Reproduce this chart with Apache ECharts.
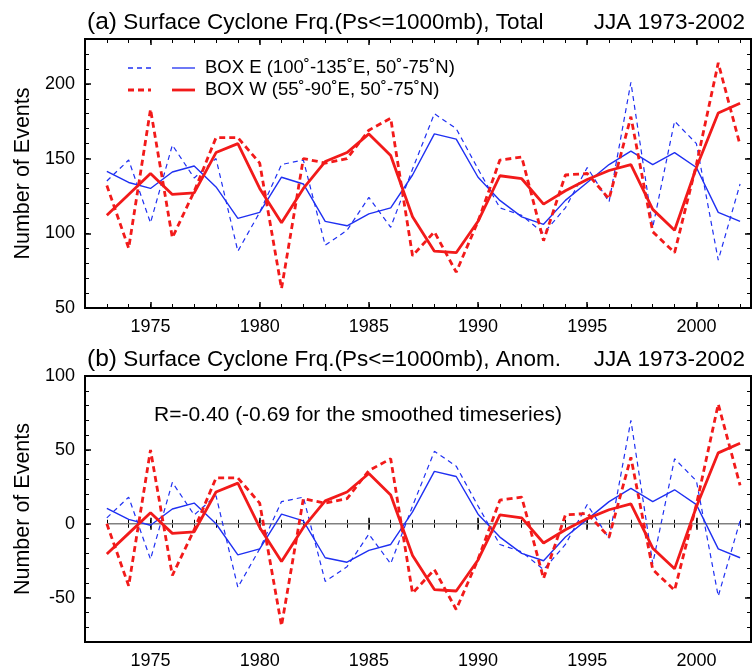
<!DOCTYPE html>
<html>
<head>
<meta charset="utf-8">
<script src="https://cdn.jsdelivr.net/npm/echarts@6/dist/echarts.min.js"></script>
<style>
  html, body { margin: 0; padding: 0; background: #fff; }
  #chart { width: 755px; height: 670px; }
</style>
</head>
<body>
<div id="chart"></div>
<script>
// JJA surface cyclone counts, 1973-2002
var years = [1973, 1974, 1975, 1976, 1977, 1978, 1979, 1980, 1981, 1982,
             1983, 1984, 1985, 1986, 1987, 1988, 1989, 1990, 1991, 1992,
             1993, 1994, 1995, 1996, 1997, 1998, 1999, 2000, 2001, 2002];

// panel (a) totals
var boxERaw    = [135, 149, 107, 159, 137, 150, 88, 114, 146, 149,
                  92, 102, 124, 104, 143, 180, 170, 143, 117, 112,
                  100, 117, 144, 121, 201, 104, 175, 160, 82, 133];
var boxESmooth = [141.5, 134, 130, 141, 145, 131, 110, 114, 137.5, 133,
                  108, 105, 113, 117, 139, 166.5, 163, 137.5, 122, 111,
                  106, 122, 134, 146, 155, 146, 154, 144, 114, 108];
var boxWRaw    = [132, 90, 183, 97, 128, 164, 164, 147, 63, 150,
                  147, 150, 169, 177, 85, 101, 74, 108, 149, 151,
                  95, 139, 140, 123, 178, 101, 87, 146, 214, 159];
var boxWSmooth = [112, 126, 140, 126, 127, 154, 160, 130, 107, 130,
                  148, 154, 166.5, 152, 111, 88, 87, 108, 138.5, 136.5,
                  119.5, 128.5, 136, 142, 146, 116, 102, 144, 180.5, 187];

// panel (b) anomalies
var boxERawAnom    = [4, 18, -24, 28, 6, 19, -43, -17, 15, 18,
                      -39, -29, -7, -27, 12, 49, 39, 12, -14, -19,
                      -31, -14, 13, -10, 70, -27, 44, 29, -49, 2];
var boxESmoothAnom = [10.5, 3, -1, 10, 14, 0, -21, -17, 6.5, 2,
                      -23, -26, -18, -14, 8, 35.5, 32, 6.5, -9, -20,
                      -25, -9, 3, 15, 24, 15, 23, 13, -17, -23];
var boxWRawAnom    = [0, -42, 50, -35, -4, 31, 31, 14, -69, 17,
                      14, 17, 36, 44, -47, -31, -58, -24, 16, 18,
                      -37, 6, 7, -9, 45, -31, -45, 13, 81, 26];
var boxWSmoothAnom = [-20.5, -6.5, 7.5, -6.5, -5.5, 21.5, 27.5, -2.5, -25.5, -2.5,
                      15.5, 21.5, 34, 19.5, -21.5, -44.5, -45.5, -24.5, 6, 4,
                      -13, -4, 3.5, 9.5, 13.5, -16.5, -30.5, 11.5, 48, 54.5];

// tick labels
var xTickYears = [1975, 1980, 1985, 1990, 1995, 2000];
var yTicksA = [50, 100, 150, 200];
var yTicksB = [-50, 0, 50, 100];

var nameE = 'BOX E (100˚-135˚E, 50˚-75˚N)';
var nameW = 'BOX W (55˚-90˚E, 50˚-75˚N)';
var BLUE = '#1f30f2';
var RED = '#f21a1a';
var FONT = '"Liberation Sans", Arial, Helvetica, sans-serif';

function pairs(vals) {
  return years.map(function (y, i) { return [y, vals[i]]; });
}
function plain(v) { return String(v); }

function xAxes(g) {
  var base = { type: 'value', gridIndex: g, min: 1972, max: 2002.5,
               axisLine: { show: false }, splitLine: { show: false } };
  var tickStyle = { color: '#000', width: 1.5 };
  return [
    Object.assign({}, base, { position: 'bottom',
      axisTick: { inside: true, length: 6, customValues: xTickYears, lineStyle: tickStyle },
      axisLabel: { customValues: xTickYears, formatter: plain, fontSize: 18, margin: 10,
                   color: '#000', fontFamily: FONT } }),
    Object.assign({}, base, { position: 'bottom', interval: 1,
      axisTick: { inside: true, length: 4, lineStyle: { color: '#000', width: 1 } },
      axisLabel: { show: false } }),
    Object.assign({}, base, { position: 'top',
      axisTick: { inside: true, length: 6, customValues: xTickYears, lineStyle: tickStyle },
      axisLabel: { show: false } }),
    Object.assign({}, base, { position: 'top', interval: 1,
      axisTick: { inside: true, length: 4, lineStyle: { color: '#000', width: 1 } },
      axisLabel: { show: false } })
  ];
}

function yAxes(g, min, max, ticks) {
  var base = { type: 'value', gridIndex: g, min: min, max: max,
               axisLine: { show: false }, splitLine: { show: false } };
  var tickStyle = { color: '#000', width: 1.5 };
  return [
    Object.assign({}, base, { position: 'left',
      name: 'Number of Events', nameLocation: 'middle', nameGap: 50,
      nameTextStyle: { fontSize: 21.5, color: '#000', fontFamily: FONT },
      axisTick: { inside: true, length: 6, customValues: ticks, lineStyle: tickStyle },
      axisLabel: { customValues: ticks, formatter: plain, fontSize: 18, margin: 10,
                   color: '#000', fontFamily: FONT } }),
    Object.assign({}, base, { position: 'left', interval: 10,
      axisTick: { inside: true, length: 4, lineStyle: { color: '#000', width: 1 } },
      axisLabel: { show: false } }),
    Object.assign({}, base, { position: 'right',
      axisTick: { inside: true, length: 6, customValues: ticks, lineStyle: tickStyle },
      axisLabel: { show: false } }),
    Object.assign({}, base, { position: 'right', interval: 10,
      axisTick: { inside: true, length: 4, lineStyle: { color: '#000', width: 1 } },
      axisLabel: { show: false } })
  ];
}

function line(name, g, vals, color, width, dashed) {
  return {
    name: name, type: 'line', xAxisIndex: 4 * g, yAxisIndex: 4 * g,
    data: pairs(vals), symbol: 'none', silent: true,
    lineStyle: { color: color, width: width, type: dashed ? (width > 2 ? [6, 4] : [5, 4]) : 'solid' },
    itemStyle: { color: color }
  };
}

// legend drawn by hand: dashed sample, solid sample, text
function legendRow(y, color, width, dash, text) {
  return [
    { type: 'line', shape: { x1: 128, y1: y, x2: 151, y2: y },
      style: { stroke: color, lineWidth: width, lineDash: dash } },
    { type: 'line', shape: { x1: 172, y1: y, x2: 195, y2: y },
      style: { stroke: color, lineWidth: width } },
    { type: 'text', x: 205, y: y,
      style: { text: text, fontSize: 18.5, fontFamily: FONT, fill: '#000', verticalAlign: 'middle' } }
  ];
}

var titleStyle = {
  fontSize: 22.5, fontWeight: 'normal', color: '#000', fontFamily: FONT,
  rich: { p: { fontSize: 24.5, color: '#000', fontFamily: FONT } }
};

var chart = echarts.init(document.getElementById('chart'), null, { renderer: 'canvas' });

var option = {
  animation: false,
  backgroundColor: '#fff',
  textStyle: { fontFamily: FONT },
  title: [
    { text: '{p|(a)} Surface Cyclone Frq.(Ps<=1000mb), Total', left: 82, top: 5, textStyle: titleStyle },
    { text: 'JJA 1973-2002', right: 5, top: 6, textStyle: titleStyle },
    { text: '{p|(b)} Surface Cyclone Frq.(Ps<=1000mb), Anom.', left: 82, top: 342, textStyle: titleStyle },
    { text: 'JJA 1973-2002', right: 5, top: 343, textStyle: titleStyle },
    { text: 'R=-0.40 (-0.69 for the smoothed timeseries)', left: 149, top: 400,
      textStyle: { fontSize: 21, fontWeight: 'normal', color: '#000', fontFamily: FONT } }
  ],
  graphic: legendRow(68, BLUE, 1.3, [5, 4], nameE).concat(legendRow(90, RED, 2.8, [6, 4], nameW)),
  grid: [
    { left: 85, top: 39, right: 4, height: 269, show: true,
      borderColor: '#000', borderWidth: 2, backgroundColor: 'transparent' },
    { left: 85, top: 376, right: 4, height: 268, show: true,
      borderColor: '#000', borderWidth: 2, backgroundColor: 'transparent' }
  ],
  xAxis: xAxes(0).concat(xAxes(1)),
  yAxis: yAxes(0, 50, 230, yTicksA).concat(yAxes(1, -80, 100, yTicksB)),
  series: [
    line('E raw', 0, boxERaw, BLUE, 1.2, true),
    line(nameE, 0, boxESmooth, BLUE, 1.4, false),
    line('W raw', 0, boxWRaw, RED, 2.8, true),
    line(nameW, 0, boxWSmooth, RED, 2.8, false),
    { name: 'zero', type: 'line', xAxisIndex: 4, yAxisIndex: 4, silent: true,
      data: pairs(years.map(function () { return 0; })), symbol: 'none',
      lineStyle: { color: '#808080', width: 1.6 } },
    line('E raw b', 1, boxERawAnom, BLUE, 1.2, true),
    line('E smooth b', 1, boxESmoothAnom, BLUE, 1.4, false),
    line('W raw b', 1, boxWRawAnom, RED, 2.8, true),
    line('W smooth b', 1, boxWSmoothAnom, RED, 2.8, false)
  ]
};

chart.setOption(option);
</script>
</body>
</html>
